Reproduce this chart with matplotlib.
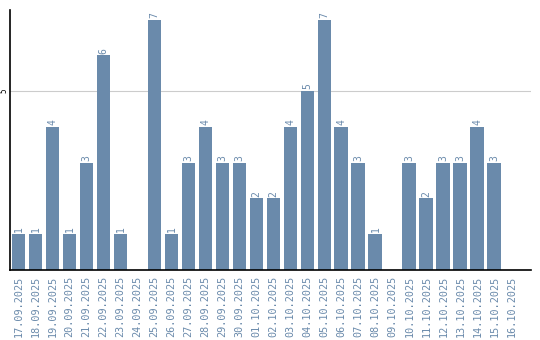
import matplotlib
matplotlib.use("Agg")
import matplotlib.pyplot as plt

dates = ["17.09.2025", "18.09.2025", "19.09.2025", "20.09.2025", "21.09.2025",
         "22.09.2025", "23.09.2025", "24.09.2025", "25.09.2025", "26.09.2025",
         "27.09.2025", "28.09.2025", "29.09.2025", "30.09.2025", "01.10.2025",
         "02.10.2025", "03.10.2025", "04.10.2025", "05.10.2025", "06.10.2025",
         "07.10.2025", "08.10.2025", "09.10.2025", "10.10.2025", "11.10.2025",
         "12.10.2025", "13.10.2025", "14.10.2025", "15.10.2025", "16.10.2025"]
counts = [1, 1, 4, 1, 3, 6, 1, 0, 7, 1, 3, 4, 3, 3, 2,
          2, 4, 5, 7, 4, 3, 1, 0, 3, 2, 3, 3, 4, 3, 0]

bar_color = "#6a8aab"

fig = plt.figure(figsize=(5.4, 3.4), dpi=100)
ax = fig.add_axes([10 / 540, 70 / 340, 521 / 540, 260 / 340])

x = list(range(len(dates)))
ax.bar(x, counts, width=0.82, color=bar_color, zorder=2)

for xi, c in zip(x, counts):
    if c > 0:
        ax.text(xi, c + 0.05, str(c), rotation=90, ha="center", va="bottom",
                color=bar_color, fontsize=7, family="DejaVu Sans Mono")

ax.set_xlim(-0.5, 30.15)
ax.set_ylim(0, 7.27)
ax.set_yticks([5])
ax.set_yticklabels(["5"], rotation=90, fontsize=5.5, va="center",
                   family="DejaVu Sans Mono")
ax.yaxis.grid(True, color="#cccccc", linewidth=0.8, zorder=0)
ax.tick_params(axis="y", length=0, pad=1)

ax.set_xticks(x)
ax.set_xticklabels(dates, rotation=90, fontsize=7.3, color=bar_color,
                   family="DejaVu Sans Mono")
ax.tick_params(axis="x", length=0, pad=4)

for s in ["top", "right"]:
    ax.spines[s].set_visible(False)
ax.spines["left"].set_linewidth(1.2)
ax.spines["bottom"].set_linewidth(1.2)

fig.savefig("out.png", dpi=100)
